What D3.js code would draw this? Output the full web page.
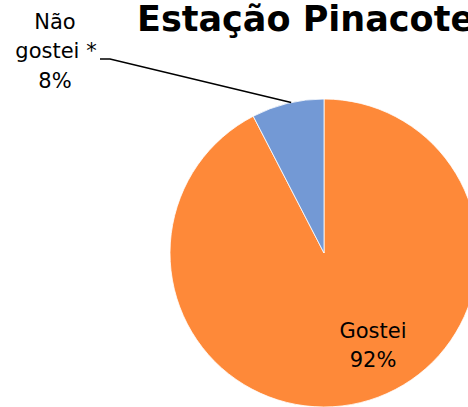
<!DOCTYPE html>
<html><head><meta charset="utf-8">
<script src="https://cdn.jsdelivr.net/npm/d3@7"></script>
<style>html,body{margin:0;padding:0;background:#fff;overflow:hidden}</style>
</head><body>
<svg id="chart" width="468" height="407"></svg>
<script>
const categories = ["Gostei", "Não gostei *"];
const values = [92.4, 7.6];
const labelText = ["92%", "8%"];
const colors = ["#FE8939", "#7399D5"];
const title = "Estação Pinacoteca";

const svg = d3.select("#chart");
const cx = 324, cy = 253, r = 154;

const pie = d3.pie().sort(null).value(d => d)(values);
const arc = d3.arc().innerRadius(0).outerRadius(r);
const color = d3.scaleOrdinal().domain(categories).range(colors);

const g = svg.append("g").attr("transform", `translate(${cx},${cy})`);
g.selectAll("path").data(pie).enter().append("path")
  .attr("d", arc)
  .attr("fill", (d, i) => color(categories[i]))
  .attr("stroke", "#fff").attr("stroke-width", 0.8);

svg.append("text").text(title)
  .attr("x", 137).attr("y", 31)
  .attr("font-family", "DejaVu Sans, sans-serif")
  .attr("font-weight", "bold").attr("font-size", 35)
  .attr("fill", "#000");

const lblFont = "DejaVu Sans, sans-serif";
// Gostei label inside
const inLbl = svg.append("text").attr("text-anchor", "middle")
  .attr("font-family", lblFont).attr("font-size", 21).attr("fill", "#000");
inLbl.append("tspan").attr("x", 373).attr("y", 338).text(categories[0]);
inLbl.append("tspan").attr("x", 373).attr("y", 367).text(labelText[0]);

// Não gostei label outside
const outLbl = svg.append("text").attr("text-anchor", "middle")
  .attr("font-family", lblFont).attr("font-size", 21).attr("fill", "#000");
const parts = categories[1].split(" ");
outLbl.append("tspan").attr("x", 55).attr("y", 29).text(parts[0]);
outLbl.append("tspan").attr("x", 56).attr("y", 58).text(parts[1] + " " + parts[2]);
outLbl.append("tspan").attr("x", 55).attr("y", 88).text(labelText[1]);

// leader line to slice edge
const a = pie[1].startAngle + (pie[1].endAngle - pie[1].startAngle) * 0.55;
const ex = cx + r * Math.sin(a), ey = cy - r * Math.cos(a);
svg.append("path")
  .attr("d", `M100,59 L110,59 L${ex},${ey}`)
  .attr("fill", "none").attr("stroke", "#000").attr("stroke-width", 1.5);
</script>
</body></html>
